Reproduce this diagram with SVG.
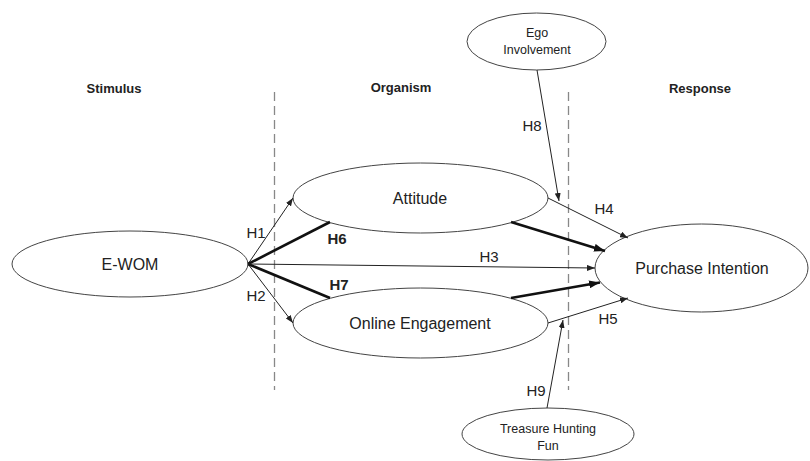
<svg xmlns="http://www.w3.org/2000/svg" width="810" height="461" viewBox="0 0 810 461">
<style>
.node ellipse{fill:#fff;stroke:#444;stroke-width:1}
.lbl{font-family:"Liberation Sans",Arial,sans-serif;fill:#222;text-anchor:middle}
.big{font-size:16px}
.small{font-size:12.5px}
.hdr{font-size:13px;font-weight:bold}
.h{font-size:15px}
.hb{font-size:15px;font-weight:bold}
.thin{stroke:#222;stroke-width:1;fill:none}
.bold{stroke:#111;stroke-width:2.6;fill:none}
.dash{stroke:#888;stroke-width:1.3;stroke-dasharray:9 5;fill:none}
</style>
<defs>
<marker id="a" markerUnits="userSpaceOnUse" markerWidth="8" markerHeight="6" refX="8" refY="3" orient="auto"><path d="M0,0 L8,3 L0,6 z" fill="#222"/></marker>
<marker id="ab" markerUnits="userSpaceOnUse" markerWidth="11" markerHeight="8" refX="11" refY="4" orient="auto"><path d="M0,0 L11,4 L0,8 z" fill="#111"/></marker>
</defs>
<rect width="810" height="461" fill="#fff"/>
<g id="headers">
<text class="lbl hdr" x="114" y="93">Stimulus</text>
<text class="lbl hdr" x="401" y="92">Organism</text>
<text class="lbl hdr" x="700" y="93">Response</text>
</g>
<g id="dividers">
<line class="dash" x1="274.5" y1="92" x2="274.5" y2="390"/>
<line class="dash" x1="568.5" y1="92" x2="568.5" y2="390"/>
</g>
<g id="ewom" class="node"><ellipse cx="130" cy="264" rx="118" ry="33"/><text class="lbl big" x="130" y="270">E-WOM</text></g>
<g id="attitude" class="node"><ellipse cx="420.5" cy="198" rx="127.5" ry="35"/><text class="lbl big" x="420" y="204">Attitude</text></g>
<g id="engagement" class="node"><ellipse cx="420.5" cy="323" rx="127.5" ry="35"/><text class="lbl big" x="420" y="329">Online Engagement</text></g>
<g id="purchase" class="node"><ellipse cx="701.5" cy="268" rx="106.5" ry="44"/><text class="lbl big" x="702" y="274">Purchase Intention</text></g>
<g id="ego" class="node"><ellipse cx="536.5" cy="41.5" rx="69.5" ry="28.5"/><text class="lbl small" x="537" y="37">Ego</text><text class="lbl small" x="537" y="54">Involvement</text></g>
<g id="treasure" class="node"><ellipse cx="548" cy="434" rx="86" ry="26"/><text class="lbl small" x="548" y="433">Treasure Hunting</text><text class="lbl small" x="548" y="450">Fun</text></g>
<g id="connectors">
<line class="thin" x1="248" y1="264" x2="293" y2="198" marker-end="url(#a)"/>
<line class="thin" x1="248" y1="264" x2="293" y2="323" marker-end="url(#a)"/>
<line class="bold" x1="248" y1="264" x2="330" y2="222"/>
<line class="bold" x1="248" y1="264" x2="330" y2="298"/>
<line class="thin" x1="248" y1="264" x2="595" y2="268" marker-end="url(#a)"/>
<line class="bold" x1="511" y1="222" x2="605" y2="251" marker-end="url(#ab)"/>
<line class="bold" x1="511" y1="298" x2="600" y2="282.5" marker-end="url(#ab)"/>
<line class="thin" x1="548" y1="198" x2="628" y2="238" marker-end="url(#a)"/>
<line class="thin" x1="548" y1="323" x2="628" y2="298" marker-end="url(#a)"/>
<line class="thin" x1="537" y1="70" x2="559" y2="201" marker-end="url(#a)"/>
<line class="thin" x1="547" y1="408" x2="563" y2="320" marker-end="url(#a)"/>
</g>
<g id="labels">
<text class="lbl h" x="256" y="238">H1</text>
<text class="lbl h" x="256" y="301">H2</text>
<text class="lbl hb" x="337" y="244">H6</text>
<text class="lbl hb" x="339" y="290">H7</text>
<text class="lbl h" x="489" y="262">H3</text>
<text class="lbl h" x="604" y="214">H4</text>
<text class="lbl h" x="608" y="324">H5</text>
<text class="lbl h" x="532" y="131">H8</text>
<text class="lbl h" x="536" y="396">H9</text>
</g>
</svg>
